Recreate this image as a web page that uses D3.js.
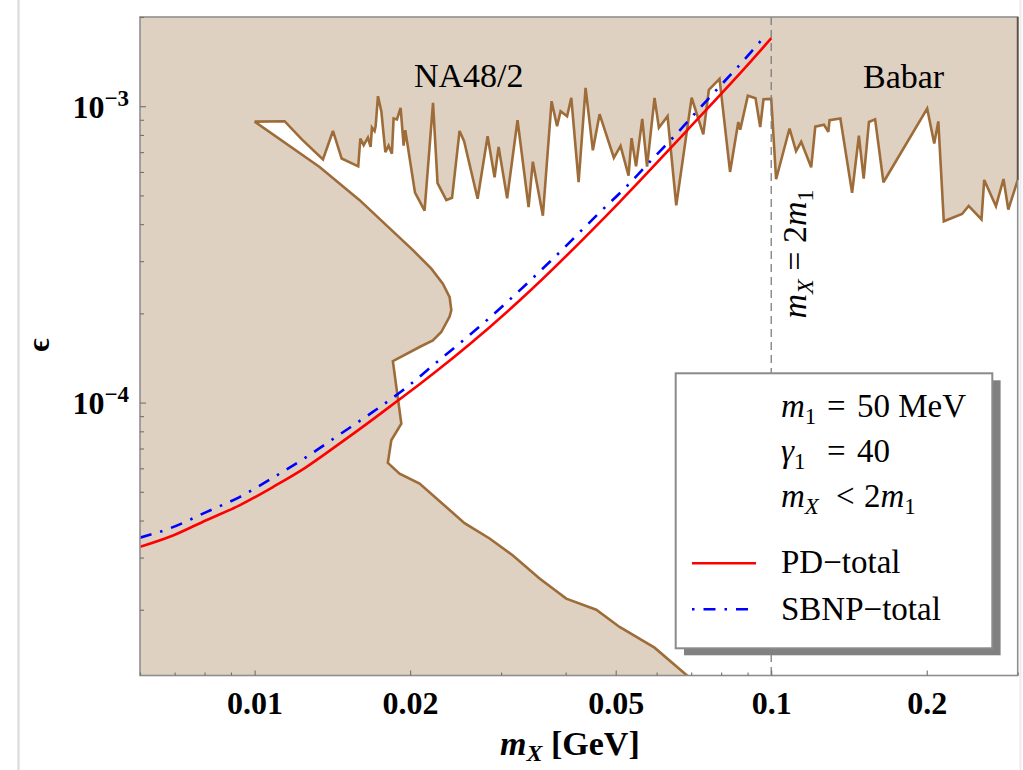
<!DOCTYPE html>
<html>
<head>
<meta charset="utf-8">
<script src="https://cdn.jsdelivr.net/npm/d3@7"></script>
<style>
  body { margin: 0; background: #fff; }
  svg { display: block; }
  text { font-family: "Liberation Serif", "Times New Roman", serif; }
</style>
</head>
<body>
<svg id="chart" width="1023" height="770"></svg>
<script>
// Axis ranges: dark photon mass m_X (GeV) and kinetic mixing epsilon
const massRange = [0.006, 0.3];
const epsRange = [1.2e-5, 2e-3];

const xTickLabeled = [0.01, 0.02, 0.05, 0.1, 0.2];
const xTickText = ["0.01", "0.02", "0.05", "0.1", "0.2"];
const xTickMinor = [0.006, 0.007, 0.008, 0.009, 0.03, 0.04, 0.06, 0.07, 0.08, 0.09, 0.3];
const yTickLabeled = [1e-4, 1e-3];
const yTickExponent = ["\u22124", "\u22123"];
const yTickMinor = [2e-5, 3e-5, 4e-5, 5e-5, 6e-5, 7e-5, 8e-5, 9e-5,
                    2e-4, 3e-4, 4e-4, 5e-4, 6e-4, 7e-4, 8e-4, 9e-4, 2e-3];

// Upper limit from NA48/2 (below 0.1 GeV) and Babar (above), [m_X, epsilon]
const upperLimit = [
  [0.0100, 8.87e-4], [0.01143, 8.90e-4], [0.01233, 7.74e-4], [0.01356, 6.61e-4],
  [0.01418, 8.25e-4], [0.01474, 6.66e-4], [0.01587, 6.27e-4], [0.01602, 7.78e-4],
  [0.01626, 7.39e-4], [0.01657, 7.84e-4], [0.01677, 7.29e-4], [0.01687, 8.47e-4],
  [0.01707, 8.25e-4], [0.01715, 8.56e-4], [0.01733, 1.081e-3], [0.01759, 9.62e-4],
  [0.01791, 7.00e-4], [0.01817, 7.36e-4], [0.01844, 6.91e-4], [0.01858, 9.09e-4],
  [0.01886, 9.02e-4], [0.01917, 9.88e-4], [0.01943, 7.36e-4], [0.01957, 8.30e-4],
  [0.01971, 7.68e-4], [0.02044, 5.11e-4], [0.02133, 4.44e-4], [0.02215, 1.026e-3],
  [0.02260, 5.50e-4], [0.02350, 4.82e-4], [0.02411, 4.91e-4], [0.02493, 8.25e-4],
  [0.02544, 7.62e-4], [0.02702, 4.87e-4], [0.02825, 7.92e-4], [0.02914, 5.76e-4],
  [0.02967, 7.29e-4], [0.03082, 4.89e-4], [0.03228, 8.97e-4], [0.03391, 4.57e-4],
  [0.03456, 6.50e-4], [0.03614, 4.27e-4], [0.03757, 1.040e-3], [0.03850, 8.56e-4],
  [0.03911, 9.62e-4], [0.04026, 9.25e-4], [0.04102, 1.068e-3], [0.04238, 5.54e-4],
  [0.04372, 1.154e-3], [0.04516, 7.10e-4], [0.04653, 9.40e-4], [0.04959, 6.70e-4],
  [0.05109, 7.35e-4], [0.05295, 5.83e-4], [0.05366, 7.80e-4], [0.05475, 6.27e-4],
  [0.05628, 9.06e-4], [0.05750, 6.25e-4], [0.05945, 1.067e-3], [0.06061, 8.46e-4],
  [0.06300, 9.25e-4], [0.06549, 4.63e-4], [0.07014, 1.068e-3], [0.07388, 8.04e-4],
  [0.07573, 1.135e-3], [0.07943, 1.236e-3], [0.08324, 6.00e-4], [0.08635, 8.85e-4],
  [0.08710, 8.33e-4], [0.09010, 1.085e-3], [0.09324, 1.064e-3], [0.09521, 8.51e-4],
  [0.09663, 1.056e-3], [0.1000, 1.058e-3], [0.1022, 5.67e-4], [0.1085, 8.41e-4],
  [0.1117, 7.05e-4], [0.1143, 7.58e-4], [0.1195, 6.22e-4], [0.1217, 8.53e-4],
  [0.1265, 8.66e-4], [0.1290, 8.20e-4], [0.1297, 8.97e-4], [0.1361, 9.09e-4],
  [0.1434, 5.10e-4], [0.1478, 7.95e-4], [0.1510, 5.70e-4], [0.1546, 8.85e-4],
  [0.1589, 9.03e-4], [0.1649, 5.54e-4], [0.2004, 9.82e-4], [0.2068, 7.48e-4],
  [0.2106, 8.89e-4], [0.2158, 4.09e-4], [0.2341, 4.33e-4], [0.2411, 4.61e-4],
  [0.2553, 4.15e-4], [0.2584, 5.64e-4], [0.2723, 4.60e-4], [0.2816, 5.68e-4],
  [0.2877, 4.48e-4], [0.3000, 5.63e-4]
];

// Lower-left exclusion boundary (beam dump), [m_X, epsilon]
const lowerLimit = [
  [0.0100, 8.87e-4], [0.01336, 6.24e-4], [0.01597, 4.82e-4], [0.01798, 3.97e-4],
  [0.02025, 3.27e-4], [0.02198, 2.83e-4], [0.02314, 2.52e-4], [0.02385, 2.27e-4],
  [0.02403, 2.05e-4], [0.02385, 1.95e-4], [0.02298, 1.73e-4], [0.02213, 1.62e-4],
  [0.02086, 1.54e-4], [0.01852, 1.38e-4], [0.01923, 8.49e-5], [0.01839, 7.46e-5],
  [0.01811, 6.26e-5], [0.01908, 5.76e-5], [0.02086, 5.33e-5], [0.02549, 3.92e-5],
  [0.02850, 3.48e-5], [0.03162, 3.05e-5], [0.03561, 2.55e-5], [0.04011, 2.18e-5],
  [0.04585, 2.00e-5], [0.05087, 1.75e-5], [0.05945, 1.49e-5], [0.0695, 1.18e-5]
];

// PD-total sensitivity curve
const pdTotal = [
  [0.0060, 3.26e-5], [0.00695, 3.56e-5], [0.00806, 4.01e-5], [0.00935, 4.50e-5],
  [0.01085, 5.19e-5], [0.01259, 6.06e-5], [0.0146, 7.27e-5], [0.01694, 8.78e-5],
  [0.0188, 1.006e-4], [0.02086, 1.153e-4], [0.02247, 1.275e-4], [0.02607, 1.573e-4],
  [0.03257, 2.21e-4], [0.05087, 4.75e-4], [0.06847, 8.23e-4], [0.09213, 1.441e-3],
  [0.1000, 1.696e-3]
];

// SBNP-total sensitivity curve
const sbnpTotal = [
  [0.0060, 3.50e-5], [0.00695, 3.80e-5], [0.00806, 4.27e-5], [0.00935, 4.80e-5],
  [0.01085, 5.58e-5], [0.01259, 6.55e-5], [0.0146, 7.80e-5], [0.01694, 9.30e-5],
  [0.01936, 1.10e-4], [0.02298, 1.41e-4], [0.02587, 1.67e-4], [0.03724, 2.98e-4],
  [0.04667, 4.40e-4], [0.05241, 5.35e-4], [0.05858, 6.57e-4], [0.06549, 8.05e-4],
  [0.0729, 9.90e-4], [0.08122, 1.214e-3], [0.0862, 1.357e-3], [0.09705, 1.72e-3]
];

// Kinematic threshold m_X = 2 m_1 with m_1 = 50 MeV
const thresholdMass = 0.1;

const TAN = "#dfd1c1", BROWN = "#9e6c38", FRAME = "#8e8e8e";
const box = { left: 140, right: 1017.7, top: 17, bottom: 675.5 };

const svg = d3.select("#chart");
const x = d3.scaleLog().domain(massRange).range([box.left, box.right]);
const y = d3.scaleLog().domain(epsRange).range([box.bottom, box.top]);

// faint page edges
svg.append("line").attr("x1", 18.5).attr("x2", 18.5).attr("y1", 0).attr("y2", 770)
  .attr("stroke", "#dadada").attr("stroke-width", 2.2);
svg.append("line").attr("x1", 1020.5).attr("x2", 1020.5).attr("y1", 0).attr("y2", 770)
  .attr("stroke", "#ececec").attr("stroke-width", 2);

svg.append("clipPath").attr("id", "plotClip").append("rect")
  .attr("x", box.left).attr("y", box.top)
  .attr("width", box.right - box.left).attr("height", box.bottom - box.top);

const plot = svg.append("g").attr("clip-path", "url(#plotClip)");

// excluded parameter space fills the frame; the allowed window is cut out in white
plot.append("rect").attr("x", box.left).attr("y", box.top)
  .attr("width", box.right - box.left).attr("height", box.bottom - box.top)
  .attr("fill", TAN);

const poly = d3.line().x(d => x(d[0])).y(d => y(d[1]));
const smooth = d3.line().x(d => x(d[0])).y(d => y(d[1])).curve(d3.curveMonotoneX);

const lastLow = lowerLimit[lowerLimit.length - 1];
const allowed = upperLimit
  .concat([[massRange[1] * 1.05, upperLimit[upperLimit.length - 1][1]],
           [massRange[1] * 1.05, lastLow[1] * 0.9], [lastLow[0], lastLow[1] * 0.9]])
  .concat(lowerLimit.slice().reverse());
plot.append("path").attr("d", poly(allowed) + "Z").attr("fill", "#fff");

[upperLimit, lowerLimit].forEach(pts => {
  plot.append("path").attr("d", poly(pts)).attr("fill", "none")
    .attr("stroke", BROWN).attr("stroke-width", 2.6).attr("stroke-linejoin", "miter")
    .attr("stroke-miterlimit", 3);
});

// threshold line
plot.append("line")
  .attr("x1", x(thresholdMass)).attr("x2", x(thresholdMass))
  .attr("y1", box.top).attr("y2", box.bottom)
  .attr("stroke", "#7d7d7d").attr("stroke-width", 1.3).attr("stroke-dasharray", "8,5");

// sensitivity curves
plot.append("path").attr("d", smooth(sbnpTotal)).attr("fill", "none")
  .attr("stroke", "#0000ff").attr("stroke-width", 2.6)
  .attr("stroke-dasharray", "12,9,2.5,9");
plot.append("path").attr("d", smooth(pdTotal)).attr("fill", "none")
  .attr("stroke", "#ff0000").attr("stroke-width", 2.6);

// frame
svg.append("rect").attr("x", box.left).attr("y", box.top)
  .attr("width", box.right - box.left).attr("height", box.bottom - box.top)
  .attr("fill", "none").attr("stroke", FRAME).attr("stroke-width", 1.6);
svg.append("line").attr("x1", box.right).attr("x2", box.right)
  .attr("y1", box.top).attr("y2", y(upperLimit[upperLimit.length - 1][1]))
  .attr("stroke", "#5e5245").attr("stroke-width", 1.8);

// ticks
function ticks(axis, values, size, where) {
  const g = svg.append("g").attr("transform", where)
    .call(axis.tickValues(values).tickSize(-size).tickFormat(""));
  g.select(".domain").remove();
  g.selectAll(".tick line").attr("stroke", "#707070").attr("stroke-width", 1.1);
  return g;
}
ticks(d3.axisBottom(x), xTickMinor, 3, `translate(0,${box.bottom})`);
ticks(d3.axisLeft(y), yTickMinor, 4, `translate(${box.left},0)`);
const gxLab = svg.append("g").attr("transform", `translate(0,${box.bottom})`)
  .call(d3.axisBottom(x).tickValues(xTickLabeled).tickSize(-5)
    .tickPadding(16).tickFormat((d, i) => xTickText[i]));
gxLab.select(".domain").remove();
gxLab.selectAll(".tick line").attr("stroke", "#707070").attr("stroke-width", 1.1);
gxLab.attr("font-size", null).attr("font-family", null);
gxLab.selectAll(".tick text").attr("fill", "#000")
  .style("font-family", '"Liberation Serif","Times New Roman",serif')
  .style("font-size", "32px").style("font-weight", "bold");
ticks(d3.axisLeft(y), yTickLabeled, 6, `translate(${box.left},0)`);

// y tick labels as powers of ten
yTickLabeled.forEach((v, i) => {
  const t = svg.append("text").attr("x", 129).attr("y", y(v) + 11.3)
    .attr("text-anchor", "end").attr("font-weight", "bold").attr("font-size", 32);
  t.append("tspan").text("10");
  t.append("tspan").attr("font-size", 23).attr("dy", -12).text(yTickExponent[i]);
});

// axis titles
const xt = svg.append("text").attr("x", 500).attr("y", 755)
  .attr("font-weight", "bold").attr("font-size", 34);
xt.append("tspan").attr("font-style", "italic").text("m");
xt.append("tspan").attr("font-style", "italic").attr("font-size", 24).attr("dy", 6).text("X");
xt.append("tspan").attr("dy", -6).text(" [GeV]");

svg.append("text").attr("transform", "translate(49,345) rotate(-90)")
  .attr("text-anchor", "middle").attr("font-weight", "bold").attr("font-size", 32)
  .text("\u03f5");

// region labels
svg.append("text").attr("x", 414).attr("y", 86.7).attr("font-size", 34).text("NA48/2");
svg.append("text").attr("x", 863).attr("y", 88.3).attr("font-size", 34).text("Babar");

// threshold label, m_X = 2 m_1
const th = svg.append("text")
  .attr("transform", `translate(${x(thresholdMass) + 35},254) rotate(-90)`)
  .attr("text-anchor", "middle").attr("font-size", 34);
th.append("tspan").attr("font-style", "italic").text("m");
th.append("tspan").attr("font-style", "italic").attr("font-size", 24).attr("dy", 7).text("X");
th.append("tspan").attr("dy", -7).text(" = 2");
th.append("tspan").attr("font-style", "italic").text("m");
th.append("tspan").attr("font-size", 24).attr("dy", 7).text("1");

// legend
const lg = svg.append("g");
lg.append("rect").attr("x", 684).attr("y", 380.3).attr("width", 316.6).attr("height", 275)
  .attr("fill", "#808080");
lg.append("rect").attr("x", 675.7).attr("y", 373.3).attr("width", 316.6).attr("height", 275)
  .attr("fill", "#fff").attr("stroke", "#8a8a8a").attr("stroke-width", 2);

const LX = 781;
function legendText(yb) {
  return lg.append("text").attr("x", LX).attr("y", yb).attr("font-size", 33);
}
let t1 = legendText(416.7);
t1.append("tspan").attr("font-style", "italic").text("m");
t1.append("tspan").attr("font-size", 23).attr("dy", 7).text("1");
t1.append("tspan").attr("x", 827).attr("dy", -7).text("=");
t1.append("tspan").attr("x", 857).text("50 MeV");

let t2 = legendText(461.7);
t2.append("tspan").attr("font-style", "italic").text("\u03b3");
t2.append("tspan").attr("font-size", 23).attr("dy", 7).text("1");
t2.append("tspan").attr("x", 827).attr("dy", -7).text("=");
t2.append("tspan").attr("x", 857).text("40");

let t3 = legendText(506.7);
t3.append("tspan").attr("font-style", "italic").text("m");
t3.append("tspan").attr("font-style", "italic").attr("font-size", 23).attr("dy", 7).text("X");
t3.append("tspan").attr("x", 836).attr("dy", -7).text("<");
t3.append("tspan").attr("x", 864).text("2");
t3.append("tspan").attr("font-style", "italic").text("m");
t3.append("tspan").attr("font-size", 23).attr("dy", 7).text("1");

legendText(573.3).text("PD\u2212total");
legendText(620).text("SBNP\u2212total");

lg.append("line").attr("x1", 692).attr("x2", 756).attr("y1", 563.3).attr("y2", 563.3)
  .attr("stroke", "#ff0000").attr("stroke-width", 2.6);
lg.append("line").attr("x1", 692).attr("x2", 756).attr("y1", 609.3).attr("y2", 609.3)
  .attr("stroke", "#0000ff").attr("stroke-width", 2.6).attr("stroke-dasharray", "2.5,9,12,9");
</script>
</body>
</html>
